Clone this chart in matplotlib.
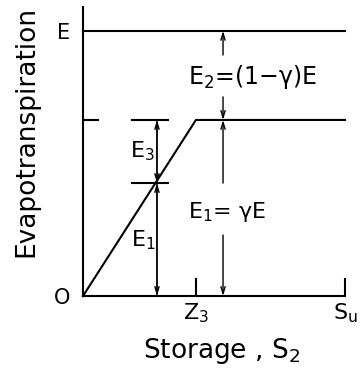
import matplotlib
matplotlib.use("Agg")
import matplotlib.pyplot as plt

# Schematic values (storage in units of Z3, ET in units of E)
E = 1.0
GAMMA = 0.664          # plateau level, E1 = gamma * E
E1_LEFT = 0.426        # split level on the ramp dimension
Z3 = 1.0
SU = 2.32
X_SPLIT = 0.655        # x of E3 / E1 dimension line
X_RIGHT = 1.24         # x of E2 / E1 dimension line

curve_x = [0.0, Z3, SU]
curve_y = [0.0, GAMMA * E, GAMMA * E]

x_ticks = [Z3, SU]
x_ticklabels = [r"$\mathregular{Z_3}$", r"$\mathregular{S_u}$"]
y_ticks = [0.0, E]
y_ticklabels = ["O", "E"]

plt.rcParams["font.family"] = ["DejaVu Sans"]
LW = 1.5
ARROW = dict(arrowstyle="->,head_length=0.5,head_width=0.15", lw=1.0, color="black",
             shrinkA=0, shrinkB=0)

fig = plt.figure(figsize=(3.64, 3.69), dpi=100)
ax = fig.add_axes([83 / 364, 73 / 369, 262 / 364, 289 / 369])
ax.set_xlim(0, SU)
ax.set_ylim(0, 1.09)

for side in ("top", "right"):
    ax.spines[side].set_visible(False)
for side in ("left", "bottom"):
    ax.spines[side].set_linewidth(LW)

# curves
ax.plot([0, SU], [E, E], color="black", lw=LW, clip_on=False)
ax.plot(curve_x, curve_y, color="black", lw=LW, clip_on=False)

# ticks
ax.set_xticks(x_ticks)
ax.set_xticklabels(x_ticklabels, fontsize=16)
ax.tick_params(axis="x", direction="in", length=13, width=LW, pad=4)
ax.set_yticks(y_ticks)
ax.set_yticklabels(y_ticklabels, fontsize=15)
ax.tick_params(axis="y", which="major", length=0, pad=9)
ax.set_yticks([GAMMA * E], minor=True)
ax.tick_params(axis="y", which="minor", direction="in", length=11.5, width=LW)

# E3 / E1 dimension on the ramp
ax.plot([0.434, 0.752], [GAMMA * E, GAMMA * E], color="black", lw=LW)
ax.plot([0.434, 0.752], [E1_LEFT, E1_LEFT], color="black", lw=LW)
ax.annotate("", xy=(X_SPLIT, GAMMA * E), xytext=(X_SPLIT, E1_LEFT), arrowprops=ARROW)
ax.annotate("", xy=(X_SPLIT, E1_LEFT), xytext=(X_SPLIT, GAMMA * E), arrowprops=ARROW)
ax.annotate("", xy=(X_SPLIT, E1_LEFT), xytext=(X_SPLIT, 0.0), arrowprops=ARROW)
ax.annotate("", xy=(X_SPLIT, 0.0), xytext=(X_SPLIT, E1_LEFT), arrowprops=ARROW)
ax.text(0.53, 0.545, r"$\mathregular{E_3}$", fontsize=16, ha="center", va="center")
ax.text(0.53, 0.21, r"$\mathregular{E_1}$", fontsize=16, ha="center", va="center")

# E2 / E1 dimension on the right
ax.annotate("", xy=(X_RIGHT, E), xytext=(X_RIGHT, 0.909), arrowprops=ARROW)
ax.annotate("", xy=(X_RIGHT, GAMMA * E), xytext=(X_RIGHT, 0.751), arrowprops=ARROW)
ax.annotate("", xy=(X_RIGHT, GAMMA * E), xytext=(X_RIGHT, 0.426), arrowprops=ARROW)
ax.annotate("", xy=(X_RIGHT, 0.0), xytext=(X_RIGHT, 0.230), arrowprops=ARROW)
ax.text(0.93, 0.825, r"$\mathregular{E_2}$=(1$-$γ)E", fontsize=17, ha="left", va="center")
ax.text(0.93, 0.317, r"$\mathregular{E_1}$= γE", fontsize=16, ha="left", va="center")

ax.set_xlabel(r"Storage , $\mathregular{S_2}$", fontsize=19)
ax.set_ylabel("Evapotranspiration", fontsize=19)
ax.xaxis.set_label_coords(0.53, -0.14)
ax.yaxis.set_label_coords(-0.165, 0.57)

fig.savefig("out.png", dpi=100)
